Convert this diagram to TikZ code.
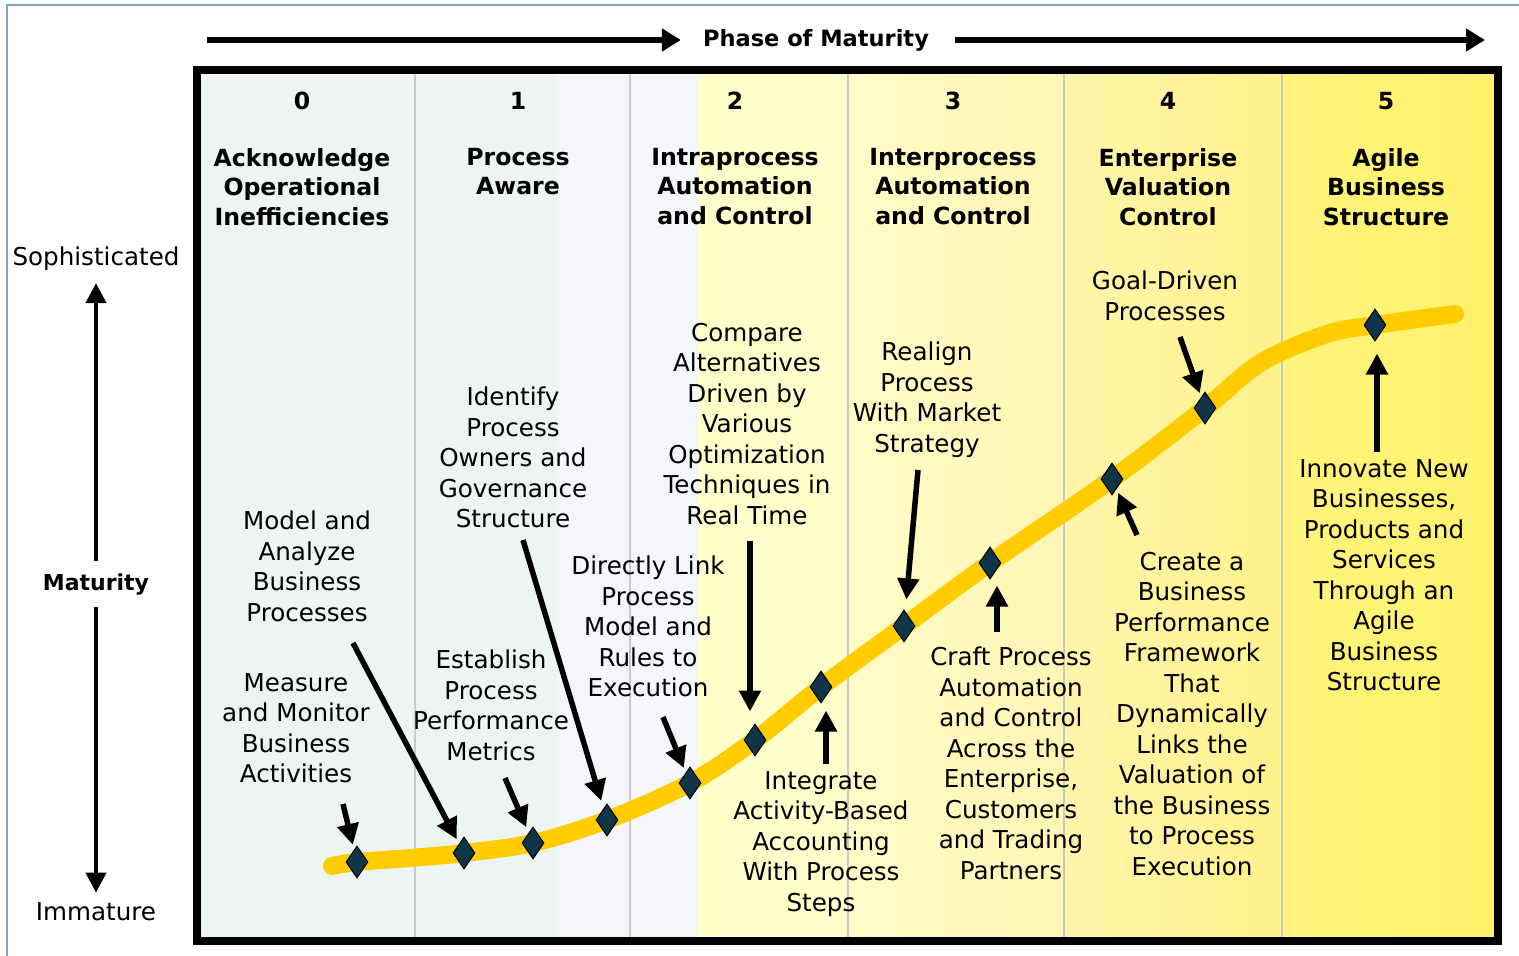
\documentclass[tikz,border=0pt]{standalone}
\usepackage{fontspec}
\setmainfont{DejaVu Sans}
\usetikzlibrary{arrows.meta,shapes.geometric}

\definecolor{frameblue}{HTML}{7FA8BE}
\definecolor{colcyan}{HTML}{EDF5F3}
\definecolor{collav}{HTML}{F5F5FC}
\definecolor{ylpale}{HTML}{FFFFCC}
\definecolor{ylthreeL}{HTML}{FFFCC8}
\definecolor{ylthreeR}{HTML}{FFF6B4}
\definecolor{ylfourL}{HTML}{FFF5AC}
\definecolor{ylfourR}{HTML}{FFF38C}
\definecolor{ylfiveL}{HTML}{FFF47E}
\definecolor{ylfiveR}{HTML}{FFF26C}
\definecolor{divider}{HTML}{C9C9C9}
\definecolor{curvecol}{HTML}{FFCC00}
\definecolor{diamcol}{HTML}{0F3547}

\tikzset{
  lbl/.style={align=center, inner sep=0pt, anchor=north, font=\fontsize{24.6}{30.5}\selectfont},
  ttl/.style={align=center, inner sep=0pt, anchor=north, font=\fontsize{23.6}{29.5}\selectfont\bfseries},
  num/.style={inner sep=0pt, font=\fontsize{23.6}{29.5}\selectfont\bfseries},
  axislbl/.style={inner sep=0pt, font=\fontsize{24.6}{30}\selectfont},
  milestone/.style={diamond, draw=black, line width=1pt, fill=diamcol, inner sep=0pt,
                    minimum width=22pt, minimum height=32pt},
  ptr/.style={line width=5.5pt, -{Triangle[length=21pt,width=21pt]}},
  toparrow/.style={line width=6pt, -{Triangle[length=19pt,width=22pt]}},
  axisarrow/.style={line width=4pt, -{Triangle[length=20pt,width=20pt]}},
  colsep/.style={divider, line width=2pt}
}

\begin{document}
\begin{tikzpicture}[x=1pt,y=-1pt]
\useasboundingbox (0,0) rectangle (1519,956);

% outer frame
\draw[frameblue, line width=2pt] (7,956) -- (7,5) -- (1519,5);

% column backgrounds
\fill[colcyan] (201,74) rectangle (557,937);
\fill[collav] (557,74) rectangle (698,937);
\fill[ylpale] (698,74) rectangle (848,937);
\shade[left color=ylthreeL, right color=ylthreeR] (848,74) rectangle (1064,937);
\shade[left color=ylfourL, right color=ylfourR] (1064,74) rectangle (1282,937);
\shade[left color=ylfiveL, right color=ylfiveR] (1282,74) rectangle (1494,937);

% column separators
\foreach \xx in {415,630,848,1064,1282}
  \draw[colsep] (\xx,74) -- (\xx,937);

% main frame
\draw[line width=8pt] (197,70) rectangle (1498,941);

% phase header
\node[inner sep=0pt, font=\fontsize{22.5}{27}\selectfont\bfseries] (phase) at (816,40) {Phase of Maturity};
\coordinate (phL) at (207,40);
\coordinate (phR) at (1485,40);
\draw[toparrow, shorten >=22pt] (phL) -- (phase);
\draw[toparrow, shorten <=26pt] (phase) -- (phR);

% vertical maturity axis
\node[axislbl] (soph) at (96,259) {Sophisticated};
\node[inner sep=0pt, font=\fontsize{22}{26}\selectfont\bfseries] (mat) at (96,585) {Maturity};
\node[axislbl] (imm) at (96,912) {Immature};
\draw[axisarrow, shorten <=13pt, shorten >=12pt] (mat) -- (soph);
\draw[axisarrow, shorten <=11pt, shorten >=10pt] (mat) -- (imm);

% phase numbers and titles
\node[num] (n0) at (302,101) {0};
\node[num] (n1) at (518,101) {1};
\node[num] (n2) at (735,101) {2};
\node[num] (n3) at (953,101) {3};
\node[num] (n4) at (1168,101) {4};
\node[num] (n5) at (1386,101) {5};

\node[ttl] (h0) at (302,148) {Acknowledge\\Operational\\Inefficiencies};
\node[ttl] (h1) at (518,148) {Process\\Aware};
\node[ttl] (h2) at (735,148) {Intraprocess\\Automation\\and Control};
\node[ttl] (h3) at (953,148) {Interprocess\\Automation\\and Control};
\node[ttl] (h4) at (1168,148) {Enterprise\\Valuation\\Control};
\node[ttl] (h5) at (1386,148) {Agile\\Business\\Structure};

% maturity curve
\draw[curvecol, line width=18pt, line cap=round]
  plot[smooth, tension=0.55] coordinates {
    (332,866) (357,862) (410,858) (464,853) (533,843) (607,820) (690,783)
    (755,740) (821,687) (904,626) (990,563) (1112,479) (1205,408)
    (1262,362) (1327,334) (1375,325) (1455,314)};

% milestones on the curve
\node[milestone] (d1) at (357,862) {};
\node[milestone] (d2) at (464,853) {};
\node[milestone] (d3) at (533,843) {};
\node[milestone] (d4) at (607,820) {};
\node[milestone] (d5) at (690,783) {};
\node[milestone] (d6) at (755,740) {};
\node[milestone] (d7) at (821,687) {};
\node[milestone] (d8) at (904,626) {};
\node[milestone] (d9) at (990,563) {};
\node[milestone] (d10) at (1112,479) {};
\node[milestone] (d11) at (1205,408) {};
\node[milestone] (d12) at (1375,325) {};

% milestone descriptions
\node[lbl] (l1) at (296,673) {Measure\\and Monitor\\Business\\Activities};
\node[lbl] (l2) at (307,511) {Model and\\Analyze\\Business\\Processes};
\node[lbl] (l3) at (491,650) {Establish\\Process\\Performance\\Metrics};
\node[lbl] (l4) at (513,387) {Identify\\Process\\Owners and\\Governance\\Structure};
\node[lbl] (l5) at (648,556) {Directly Link\\Process\\Model and\\Rules to\\Execution};
\node[lbl] (l6) at (747,323) {Compare\\Alternatives\\Driven by\\Various\\Optimization\\Techniques in\\Real Time};
\node[lbl] (l7) at (821,771) {Integrate\\Activity-Based\\Accounting\\With Process\\Steps};
\node[lbl] (l8) at (927,342) {Realign\\Process\\With Market\\Strategy};
\node[lbl] (l9) at (1011,647) {Craft Process\\Automation\\and Control\\Across the\\Enterprise,\\Customers\\and Trading\\Partners};
\node[lbl] (l10) at (1165,271) {Goal-Driven\\Processes};
\node[lbl] (l11) at (1192,552) {Create a\\Business\\Performance\\Framework\\That\\Dynamically\\Links the\\Valuation of\\the Business\\to Process\\Execution};
\node[lbl] (l12) at (1384,459) {Innovate New\\Businesses,\\Products and\\Services\\Through an\\Agile\\Business\\Structure};

% pointer tails
\coordinate (t1) at (343,804);
\coordinate (t2) at (353,643);
\coordinate (t3) at (505,778);
\coordinate (t4) at (523,540);
\coordinate (t5) at (663,717);
\coordinate (t6) at (750,541);
\coordinate (t7) at (826,764);
\coordinate (t8) at (918,470);
\coordinate (t9) at (997,632);
\coordinate (t10) at (1137,535);
\coordinate (t11) at (1180,337);
\coordinate (t12) at (1377,452);

% pointers from descriptions to milestones
\draw[ptr, shorten >=5pt] (t1) -- (d1);
\draw[ptr, shorten >=5pt] (t2) -- (d2);
\draw[ptr, shorten >=6pt] (t3) -- (d3);
\draw[ptr, shorten >=8pt] (t4) -- (d4);
\draw[ptr, shorten >=5pt] (t5) -- (d5);
\draw[ptr, shorten >=12pt] (t6) -- (t6 |- d6.north);
\draw[ptr, shorten >=7pt] (t7) -- (t7 |- d7.south);
\draw[ptr, shorten >=12pt] (t8) -- (d8);
\draw[ptr, shorten >=6pt] (t9) -- (t9 |- d9.south);
\draw[ptr, shorten >=4pt] (t10) -- (d10);
\draw[ptr, shorten >=4pt] (t11) -- (d11);
\draw[ptr, shorten >=12pt] (t12) -- (t12 |- d12.south);
\end{tikzpicture}
\end{document}
